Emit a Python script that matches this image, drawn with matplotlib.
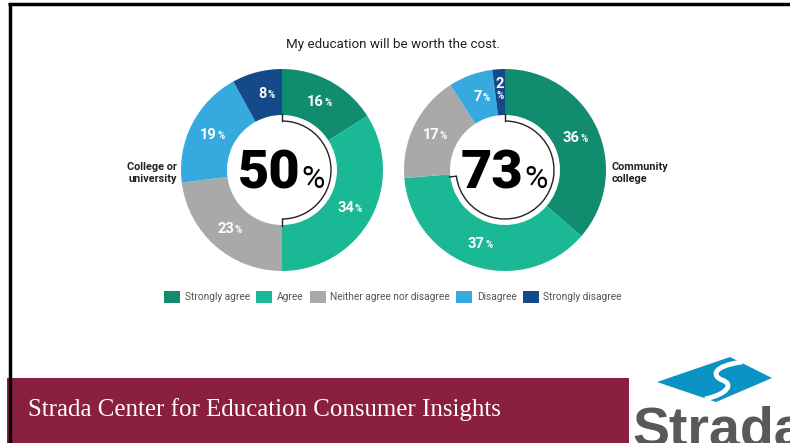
import numpy as np
import matplotlib.pyplot as plt
from matplotlib.patches import Arc, Rectangle, Polygon, PathPatch
from matplotlib.path import Path

W, H = 790, 443

categories = ["Strongly agree", "Agree", "Neither agree nor disagree",
              "Disagree", "Strongly disagree"]
colors = ["#128c6f", "#1ab895", "#a9a9a9", "#36aadf", "#154a8a"]

university = [16, 34, 23, 19, 8]
community = [36, 37, 17, 7, 2]
university_agree = 50
community_agree = 73

title = "My education will be worth the cost."
group_labels = ["College or\nuniversity", "Community\ncollege"]
footer = "Strada Center for Education Consumer Insights"

plt.rcParams['font.family'] = ['Roboto', 'DejaVu Sans']


def Y(y):
    # image-style y (top down) to axis y (bottom up)
    return H - y


def donut(ax, cx, cy, values, total_agree, r_out=101, r_in=55):
    wedges, _ = ax.pie(values, colors=colors, startangle=90, counterclock=False,
                       radius=r_out, center=(cx, Y(cy)), frame=True,
                       wedgeprops=dict(width=r_out - r_in, linewidth=0))
    # value labels in the middle of the ring
    total = sum(values)
    start = 90.0
    r_lab = (r_out + r_in) / 2
    for v in values:
        span = v / total * 360
        mid = np.radians(start - span / 2)
        lx = cx + r_lab * np.cos(mid)
        ly = Y(cy) + r_lab * np.sin(mid)
        if v < 5:
            ax.text(lx, ly + 1, str(v), color="white", fontsize=10.5,
                    fontweight="bold", ha="center", va="bottom")
            ax.text(lx, ly + 1, "%", color="white", fontsize=7,
                    fontweight="bold", ha="center", va="top")
        else:
            ax.text(lx + 4, ly - 4, str(v), color="white", fontsize=10.5,
                    fontweight="bold", ha="right", va="baseline")
            ax.text(lx + 4.5, ly - 4, "%", color="white", fontsize=7,
                    fontweight="bold", ha="left", va="baseline")
        start -= span

    # thin arc marking the share that agrees
    r_arc = 49
    end = 90 - total_agree / 100 * 360
    ax.add_patch(Arc((cx, Y(cy)), 2 * r_arc, 2 * r_arc, theta1=end, theta2=90,
                     color="#222222", lw=1.0, zorder=5))
    for a in (90, end):
        t = np.radians(a)
        ax.plot([cx + r_arc * np.cos(t), cx + (r_in + 1) * np.cos(t)],
                [Y(cy) + r_arc * np.sin(t), Y(cy) + (r_in + 1) * np.sin(t)],
                color="#222222", lw=1.0, zorder=5)

    # big number in the middle
    ax.text(cx + 18, Y(188), str(total_agree), fontsize=39, fontweight="black",
            ha="right", va="baseline", color="black")
    ax.text(cx + 19, Y(188), "%", fontsize=23, ha="left", va="baseline",
            color="black")
    return wedges


fig = plt.figure(figsize=(W / 100, H / 100), dpi=100)
ax = fig.add_axes([0, 0, 1, 1])

wedges = donut(ax, 282, 170, university, university_agree)
donut(ax, 505, 170, community, community_agree)

ax.set_xlim(0, W)
ax.set_ylim(0, H)
ax.set_aspect("auto")
ax.axis("off")

ax.text(393, Y(44), title, fontsize=9.6, ha="center", va="center",
        color="#222222")
ax.text(177, Y(173), group_labels[0], fontsize=7.8, fontweight="bold",
        ha="right", va="center", color="#222222", linespacing=1.3)
ax.text(612, Y(173), group_labels[1], fontsize=7.8, fontweight="bold",
        ha="left", va="center", color="#222222", linespacing=1.3)

leg = ax.legend(wedges, categories, loc="center", ncol=5, frameon=False,
                bbox_to_anchor=(393 / W, 1 - 297 / H), fontsize=7.3,
                handlelength=1.6, handleheight=1.5, handletextpad=0.45,
                columnspacing=0.6)
for t in leg.get_texts():
    t.set_color("#555555")

# frame lines along the top and left edge
ax.plot([8, W], [Y(3.5), Y(3.5)], color="black", lw=2.5, solid_capstyle="butt")
ax.plot([9.5, 9.5], [Y(3), 0], color="black", lw=2.5, solid_capstyle="butt")

# footer band
ax.add_patch(Rectangle((7, 0), 622, H - 378, color="#8b1f40", lw=0))
ax.text(28, Y(410), footer, fontsize=17.9, family="Liberation Serif",
        color="white", ha="left", va="center")

# logo
ax.add_patch(Polygon([(657, Y(382)), (730, Y(357)), (772, Y(378)),
                      (716, Y(402))], closed=True, color="#0a93c4", lw=0))
s_path = Path([(742, Y(362)), (712, Y(366)), (712, Y(376)),
               (722, Y(380)), (734, Y(384)), (728, Y(394)), (705, Y(399))],
              [Path.MOVETO, Path.CURVE4, Path.CURVE4, Path.CURVE4,
               Path.CURVE4, Path.CURVE4, Path.CURVE4])
ax.add_patch(PathPatch(s_path, fill=False, edgecolor="white", lw=3.5))
ax.text(632, Y(445), "Strada", fontsize=40, fontweight="bold",
        family="Liberation Sans", color="#58595b", ha="left", va="baseline")

fig.savefig("out.png", dpi=100, facecolor="white")
